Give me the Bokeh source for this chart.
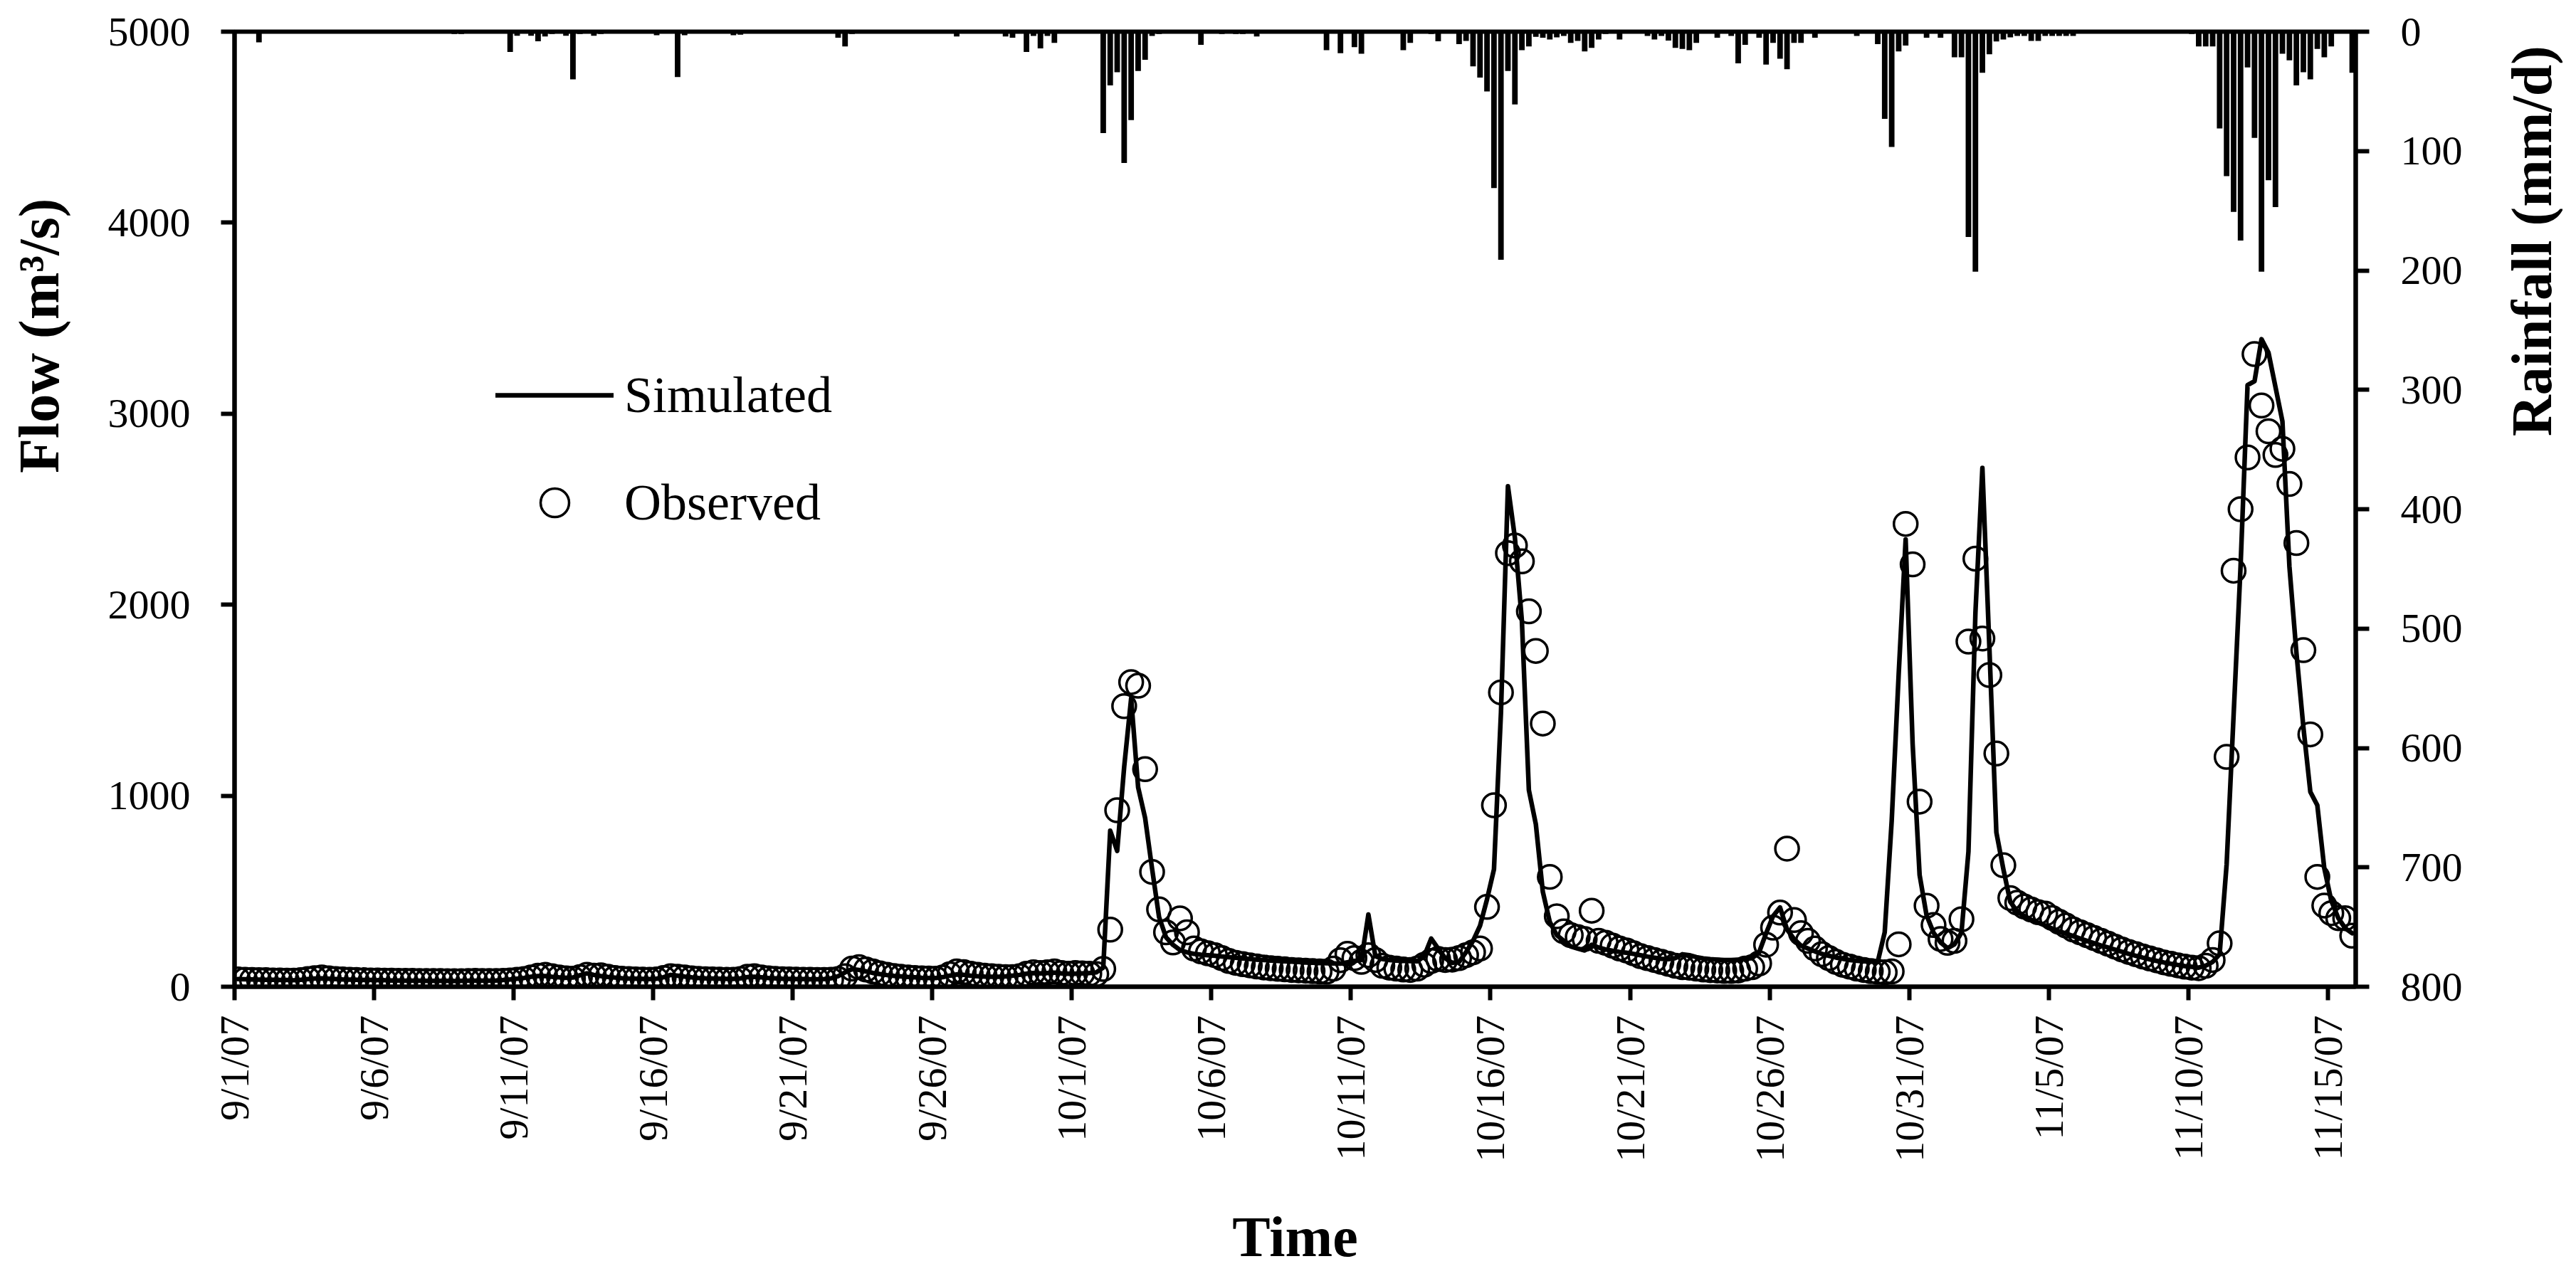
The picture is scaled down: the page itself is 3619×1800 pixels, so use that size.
import math
from bokeh.plotting import figure
from bokeh.layouts import row
from bokeh.models import (Range1d, LinearAxis, FixedTicker, Legend, LegendItem,
                          ColumnDataSource)
from bokeh.core.properties import value
from bokeh.embed import file_html
from bokeh.resources import INLINE

# ---------------- data ----------------
tick_days = [0, 5, 10, 15, 20, 25, 30, 35, 40, 45, 50, 55, 60, 65, 70, 75]
tick_labels = ["9/1/07", "9/6/07", "9/11/07", "9/16/07", "9/21/07", "9/26/07",
               "10/1/07", "10/6/07", "10/11/07", "10/16/07", "10/21/07",
               "10/26/07", "10/31/07", "11/5/07", "11/10/07", "11/15/07"]
flow_ticks = [0, 1000, 2000, 3000, 4000, 5000]
rain_ticks = [0, 100, 200, 300, 400, 500, 600, 700, 800]

# observed flow (m3/s), 6-hourly, starting 9/1/07 03:00
observed = [
    38, 36, 35, 34,  34, 33, 33, 32,  32, 34, 40, 45,  48, 44, 40, 38,
    36, 35, 34, 33,  33, 32, 32, 31,  31, 31, 30, 30,  30, 30, 29, 29,
    29, 30, 31, 30,  30, 30, 31, 33,  36, 40, 48, 58,  62, 55, 48, 44,
    42, 50, 62, 58,  60, 52, 46, 42,  40, 38, 37, 36,  38, 46, 55, 52,
    48, 44, 41, 39,  38, 37, 36, 36,  40, 52, 55, 48,  44, 41, 39, 38,
    37, 36, 36, 35,  35, 36, 40, 55,  95, 103, 90, 80,  70, 62, 56, 52,
    48, 46, 44, 43,  42, 48, 65, 80,  76, 68, 62, 58,  55, 52, 50, 50,
    55, 68, 75, 72,  75, 80, 72, 68,  72, 70, 68, 66,  93, 299, 924, 1469,
    1595, 1576, 1139, 601,  405, 285, 232, 358,  285, 200, 185, 175,
    165, 150, 135, 125,  118, 112, 106, 101,  97, 94, 91, 88,  86, 84, 82, 80,
    79, 95, 139, 172,  150, 130, 165, 140,  110, 100, 95, 90,  88, 95, 115, 135,
    145, 140, 142, 150,  165, 180, 200, 418,  950, 1541, 2270, 2310,
    2227, 1965, 1758, 1378,  575, 369, 290, 270,  260, 250, 398, 240,
    230, 215, 200, 190,  175, 160, 150, 140,  130, 120, 110, 102,  100, 95, 90, 87,
    85, 83, 83, 85,  95, 102, 122, 220,  309, 388, 723, 349,  280, 240, 200, 170,
    150, 130, 115, 105,  95, 88, 82, 78,  75, 80, 222, 2423,  2211, 969, 424, 323,
    250, 230, 240, 353,  1807, 2241, 1823, 1632,  1221, 636, 464, 440,
    420, 404, 390, 383,  360, 340, 320, 300,  285, 270, 255, 240,  225, 210, 195, 182,
    170, 158, 148, 138,  128, 120, 112, 105,  100, 97, 110, 140,  227, 1203, 2178, 2500,
    2771, 3312, 3043, 2908,  2784, 2816, 2632, 2323,  1762, 1321, 575, 425,
    385, 359, 359, 267,
]

# simulated flow (m3/s), same 6-hourly times
simulated = [
    40, 39, 38, 37,  36, 36, 35, 35,  34, 36, 40, 43,  44, 42, 40, 38,
    37, 36, 35, 35,  34, 34, 33, 33,  32, 32, 32, 31,  31, 31, 31, 30,
    31, 32, 32, 32,  32, 33, 35, 38,  42, 46, 52, 56,  56, 52, 49, 47,
    48, 60, 70, 62,  56, 51, 48, 45,  43, 42, 41, 40,  42, 50, 62, 58,
    53, 49, 46, 44,  43, 42, 41, 41,  44, 50, 52, 49,  46, 44, 42, 41,
    40, 40, 39, 39,  40, 44, 55, 75,  92, 88, 80, 72,  66, 61, 57, 54,
    51, 49, 47, 46,  46, 50, 58, 64,  62, 58, 55, 53,  52, 52, 54, 58,
    62, 68, 72, 70,  72, 74, 70, 68,  68, 70, 72, 75,  100, 817, 711, 1150,
    1510, 1044, 884, 618,  365, 259, 219, 192,  180, 172, 168, 165,
    162, 158, 155, 152,  148, 145, 142, 140,  137, 135, 133, 131,  129, 127, 126, 124,
    123, 122, 121, 128,  135, 140, 378, 160,  145, 140, 137, 135,  134, 133, 160, 252,
    200, 150, 125, 130,  181, 240, 319, 457,  615, 1435, 2620, 2350,
    1916, 1030, 851, 497,  339, 270, 240, 211,  200, 190, 220, 205,
    195, 188, 182, 178,  172, 165, 158, 152,  146, 144, 150, 170,  165, 155, 148, 144,
    142, 140, 140, 142,  145, 150, 180, 280,  370, 415, 300, 250,  215, 200, 185, 172,
    162, 153, 146, 140,  136, 133, 131, 130,  285, 868, 1635, 2342,  1272, 585, 373, 283,
    232, 202, 222, 283,  707, 1958, 2716, 1777,  808, 616, 444, 394,
    370, 350, 335, 320,  305, 290, 278, 265,  252, 240, 228, 216,  205, 194, 183, 172,
    162, 152, 143, 135,  127, 120, 114, 108,  104, 100, 110, 130,  170, 640, 1420, 2200,
    3150, 3170, 3390, 3320,  3140, 2960, 2200, 1750,  1360, 1020, 950, 620,
    450, 360, 306, 280,
]

# rainfall bars: start day of each 6-h interval (days after 9/1/07) and depth (mm/d)
rain_day = [0.75, 7.75, 8.0, 9.75, 10.0, 10.5, 10.75, 11.0, 11.25, 11.75, 12.0, 12.25,
            12.75, 13.0, 15.0, 15.75, 16.0, 17.75, 18.0, 20.5, 21.5, 21.75, 22.0, 25.75,
            27.5, 27.75, 28.25, 28.5, 28.75, 29.0, 29.25, 30.75, 31.0, 31.25, 31.5, 31.75,
            32.0, 32.25, 32.5, 32.75, 33.0, 33.75, 34.5, 34.75, 35.25, 35.75, 36.0, 36.5,
            39.0, 39.5, 40.0, 40.25, 41.75, 42.0, 42.75, 43.0, 43.75, 44.0, 44.25, 44.5,
            44.75, 45.0, 45.25, 45.5, 45.75, 46.0, 46.25, 46.5, 46.75, 47.0, 47.25, 47.5,
            47.75, 48.0, 48.25, 48.5, 48.75, 49.0, 49.5, 50.5, 50.75, 51.0, 51.25, 51.5,
            51.75, 52.0, 52.25, 53.0, 53.5, 53.75, 54.0, 54.5, 54.75, 55.0, 55.25, 55.5,
            55.75, 56.0, 56.5, 58.0, 58.75, 59.0, 59.25, 59.5, 59.75, 60.5, 61.0, 61.5,
            61.75, 62.0, 62.25, 62.5, 62.75, 63.0, 63.25, 63.5, 63.75, 64.0, 64.25, 64.5,
            64.75, 65.0, 65.25, 65.5, 65.75, 70.0, 70.25, 70.5, 70.75, 71.0, 71.25, 71.5,
            71.75, 72.0, 72.25, 72.5, 72.75, 73.0, 73.25, 73.5, 73.75, 74.0, 74.25, 74.5,
            74.75, 75.0, 75.75]
rain_mm = [9, 2, 2, 17, 3.4, 3.4, 8, 4, 2, 3.4, 40, 2,
           3.4, 2, 3, 38, 3, 3, 2.5, 1.5, 5, 12.3, 2, 4,
           4, 5, 17, 3.6, 14, 3.6, 9.4, 1, 85, 45, 34, 110,
           74, 33, 23.5, 3.6, 2, 1, 11, 1, 2, 2, 2, 4,
           15.5, 18, 13, 18.5, 15.5, 9.4, 2, 8, 10.5, 7.8, 29, 38.5,
           50, 131, 191, 33, 61, 15.5, 12.3, 4.3, 5, 6.6, 4.8, 3.6,
           9.4, 7.8, 16.6, 13.5, 6.6, 2, 6.6, 3.6, 6.6, 3.6, 7.5, 13.5,
           14.4, 15.5, 9.4, 5, 3.6, 26.5, 11, 5, 27.6, 9.4, 22.6, 31.5,
           9.4, 9.4, 5, 3.6, 10.5, 73, 96.5, 16.6, 11.6, 5, 5, 21.4,
           21.4, 172, 201, 34.4, 19, 8.2, 6.6, 4.8, 3.6, 3.6, 7.8, 7.8,
           3.6, 3.6, 3.6, 3.6, 3.6, 2, 12.3, 12.3, 12.3, 81, 121, 151,
           175, 30, 89, 201, 124.5, 147, 18.5, 24, 45, 34, 40, 14.4,
           21.4, 12.3, 34.4]

# ---------------- chart ----------------
FONT = "Liberation Serif"
STEP = 0.25          # 6-hour time step in days
H = 1784             # common height of all panels
LEFT_W, MAIN_W, RIGHT_W = 140, 3342, 118

t = [STEP / 2 + STEP * i for i in range(len(observed))]
rain_x = [d + STEP / 2 for d in rain_day]

src = ColumnDataSource(dict(t=t, obs=observed, sim=simulated))
rsrc = ColumnDataSource(dict(x=rain_x, mm=rain_mm))

p = figure(width=MAIN_W, height=H, x_range=Range1d(0, 76), y_range=Range1d(0, 5000),
           output_backend="svg", toolbar_location=None,
           min_border_left=189, min_border_right=173, min_border_top=44,
           min_border_bottom=398, background_fill_color="white",
           border_fill_color="white")
p.extra_y_ranges = {"rain": Range1d(800, 0)}
p.xgrid.visible = False
p.ygrid.visible = False
p.outline_line_color = "black"
p.outline_line_width = 6
p.outline_line_alpha = 1.0

xa = p.xaxis[0]
xa.ticker = FixedTicker(ticks=tick_days)
xa.major_label_overrides = {d: s for d, s in zip(tick_days, tick_labels)}
xa.major_label_orientation = math.pi / 2
xa.major_label_standoff = 21
xa.axis_label = "Time"
xa.axis_label_standoff = 58
xa.axis_label_text_font = FONT
xa.axis_label_text_font_size = "80px"
xa.axis_label_text_font_style = "bold"
xa.axis_label_text_color = "black"

ya = p.yaxis[0]
ya.ticker = FixedTicker(ticks=flow_ticks)
ya.major_label_standoff = 43

ra = LinearAxis(y_range_name="rain", ticker=FixedTicker(ticks=rain_ticks))
ra.major_label_standoff = 44
p.add_layout(ra, "right")

for ax in (xa, ya, ra):
    ax.axis_line_color = "black"
    ax.axis_line_width = 6
    ax.major_tick_line_color = "black"
    ax.major_tick_line_width = 6
    ax.major_tick_out = 19
    ax.major_tick_in = 0
    ax.minor_tick_line_color = None
    ax.major_label_text_font = FONT
    ax.major_label_text_font_size = "58px"
    ax.major_label_text_color = "black"

p.vbar(x="x", width=0.2, top="mm", bottom=0, source=rsrc, y_range_name="rain",
       fill_color="black", line_color=None)
obs_r = p.scatter(x="t", y="obs", source=src, marker="circle", size=33,
                  fill_alpha=0, line_color="black", line_width=3.5)
sim_r = p.line(x="t", y="sim", source=src, line_color="black", line_width=6.5,
               line_join="round", line_cap="round")

legend = Legend(items=[LegendItem(label="Simulated", renderers=[sim_r]),
                       LegendItem(label="Observed", renderers=[obs_r])],
                location=(367, 630), orientation="vertical",
                glyph_width=166, glyph_height=100, spacing=51, label_standoff=15,
                padding=0, margin=0, border_line_color=None,
                background_fill_alpha=0, label_text_font=FONT,
                label_text_font_size="72px", label_text_color="black")
p.add_layout(legend)


def title_panel(width, text, x, y):
    """A blank side panel that carries one rotated axis title."""
    f = figure(width=width, height=H, x_range=Range1d(0, width), y_range=Range1d(0, H),
               x_axis_type=None, y_axis_type=None, output_backend="svg",
               toolbar_location=None, min_border=0, outline_line_color=None,
               background_fill_color="white", border_fill_color="white")
    f.xgrid.visible = False
    f.ygrid.visible = False
    f.text(x=[x], y=[y], text=[text], angle=math.pi / 2, text_align="center",
           text_baseline="middle", text_font=value(FONT),
           text_font_size=value("80px"), text_font_style="bold", text_color="black")
    return f


left = title_panel(LEFT_W, "Flow (m³/s)", 54, H - 568)
right = title_panel(RIGHT_W, "Rainfall (mm/d)", 74, H - 391)

layout = row(left, p, right, spacing=0)
open("out.html", "w").write(file_html(layout, INLINE))
